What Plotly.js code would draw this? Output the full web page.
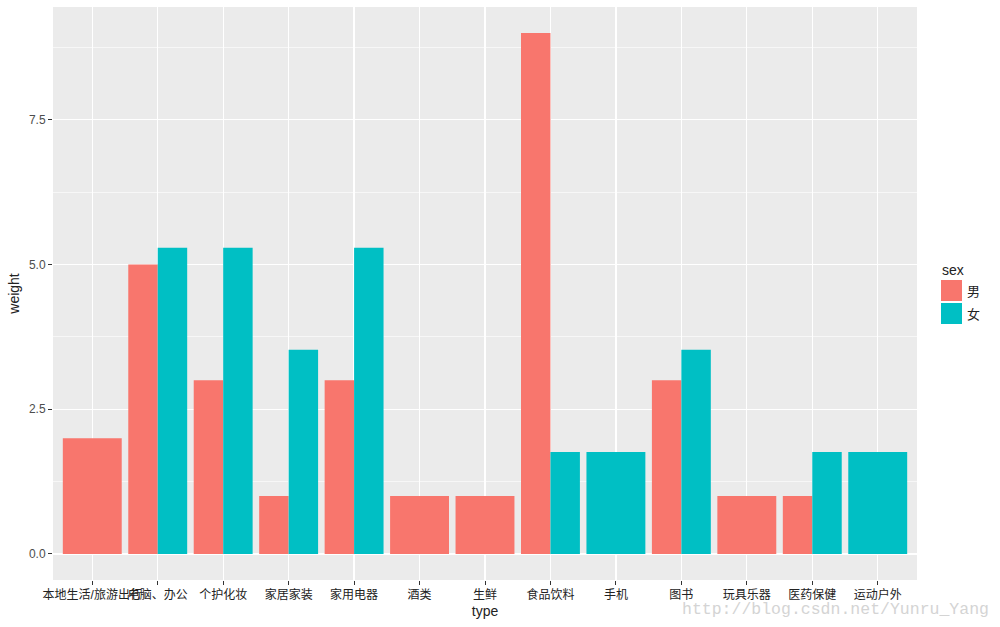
<!DOCTYPE html>
<html>
<head>
<meta charset="utf-8">
<script src="https://cdn.plot.ly/plotly-3.0.1.min.js"></script>
<style>html,body{margin:0;padding:0;background:#fff;}#chart{width:1000px;height:627px;}</style>
</head>
<body>
<div id="chart"></div>
<script>
const types = ["本地生活/旅游出行","电脑、办公","个护化妆","家居家装","家用电器","酒类","生鲜","食品饮料","手机","图书","玩具乐器","医药保健","运动户外"];
const male   = [2, 5, 3, 1, 3, 1, 1, 9, null, 3, 1, 1, null];
const female = [null, 5.29, 5.29, 3.53, 5.29, null, null, 1.76, 1.76, 3.53, null, 1.76, 1.76];
const sexNames = ["男", "女"];
const colors = ["#F8766D", "#00BFC4"];

const FONT = '"Liberation Sans", Arial, "Noto Sans CJK SC", sans-serif';
const W = 1000, H = 627, M = {l: 53, r: 83, t: 7, b: 47};
const PW = W - M.l - M.r, PH = H - M.t - M.b;
const px = v => (v - M.l) / PW;          // pixel -> paper x
const py = v => (H - M.b - v) / PH;      // pixel -> paper y

function buildTrace(vals, which) {
  const xs = [], ys = [], ws = [], os = [];
  vals.forEach((v, i) => {
    if (v === null) return;
    const paired = male[i] !== null && female[i] !== null;
    xs.push(types[i]); ys.push(v);
    ws.push(paired ? 0.45 : 0.9);
    os.push(paired && which === 1 ? 0 : -0.45);
  });
  return {
    type: 'bar', x: xs, y: ys, width: ws, offset: os,
    name: sexNames[which], marker: {color: colors[which], line: {width: 0}},
    hoverinfo: 'x+y', showlegend: false
  };
}

const data = [buildTrace(male, 0), buildTrace(female, 1)];

// custom ggplot-style legend
const shapes = [], annotations = [];
annotations.push({text: 'sex', xref: 'paper', yref: 'paper', x: px(940), y: py(270),
  xanchor: 'left', yanchor: 'middle', showarrow: false,
  font: {family: FONT, size: 14, color: '#222222'}});
sexNames.forEach((n, k) => {
  const top = 280 + k * 23;
  shapes.push({type: 'rect', xref: 'paper', yref: 'paper', x0: px(941), x1: px(962),
    y0: py(top), y1: py(top + 21), fillcolor: colors[k], line: {width: 0}});
  annotations.push({text: n, xref: 'paper', yref: 'paper', x: px(965), y: py(top + 11.5),
    xanchor: 'left', yanchor: 'middle', showarrow: false,
    font: {family: FONT, size: 13, color: '#222222'}});
});
annotations.push({
  text: 'http://blog.csdn.net/Yunru_Yang', xref: 'paper', yref: 'paper',
  x: px(680), xanchor: 'left', y: py(609), yanchor: 'middle',
  showarrow: false,
  font: {family: '"Liberation Mono", "DejaVu Sans Mono", monospace', size: 16.5, color: '#D4D4D4'}
});

const layout = {
  width: W, height: H,
  margin: M,
  paper_bgcolor: '#FFFFFF', plot_bgcolor: '#EBEBEB',
  barmode: 'overlay', showlegend: false,
  font: {family: FONT, size: 12, color: '#4D4D4D'},
  xaxis: {
    type: 'category', categoryorder: 'array', categoryarray: types,
    range: [-0.6, 12.6], tickangle: 0, automargin: false,
    showgrid: true, gridcolor: '#FFFFFF', gridwidth: 1.2,
    ticks: 'outside', ticklen: 4, tickcolor: '#333333', tickwidth: 1,
    tickfont: {family: FONT, size: 12, color: '#222222'},
    zeroline: false, showline: false,
    title: {text: 'type', font: {family: FONT, size: 14, color: '#222222'}, standoff: 4}
  },
  yaxis: {
    range: [-0.45, 9.45], tickvals: [0, 2.5, 5, 7.5], ticktext: ['0.0','2.5','5.0','7.5'],
    automargin: false,
    showgrid: true, gridcolor: '#FFFFFF', gridwidth: 1.2,
    minor: {tickvals: [1.25, 3.75, 6.25, 8.75], showgrid: true, gridcolor: '#FFFFFF', gridwidth: 0.6, ticks: ''},
    ticks: 'outside', ticklen: 4, tickcolor: '#333333', tickwidth: 1,
    tickfont: {family: FONT, size: 12, color: '#4D4D4D'},
    zeroline: false, showline: false,
    title: {text: 'weight', font: {family: FONT, size: 14, color: '#222222'}, standoff: 6}
  },
  shapes: shapes,
  annotations: annotations
};

Plotly.newPlot('chart', data, layout, {displayModeBar: false, staticPlot: true});
</script>
</body>
</html>
